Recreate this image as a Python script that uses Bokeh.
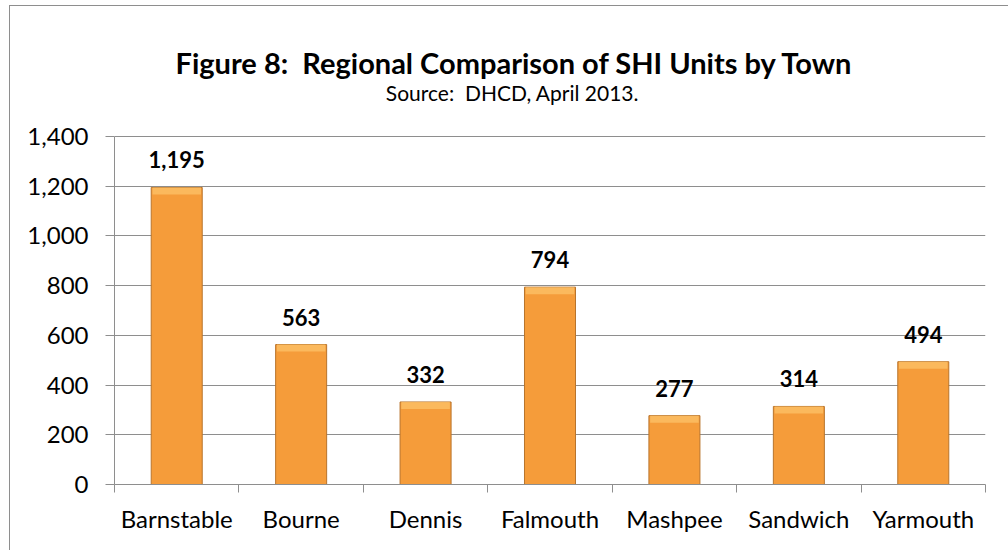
from bokeh.plotting import figure
from bokeh.models import (Range1d, FixedTicker, NumeralTickFormatter, Label,
                          LabelSet, ColumnDataSource)
from bokeh.core.properties import value
from bokeh.embed import file_html
from bokeh.resources import INLINE

towns = ["Barnstable", "Bourne", "Dennis", "Falmouth", "Mashpee", "Sandwich", "Yarmouth"]
units = [1195, 563, 332, 794, 277, 314, 494]
y_ticks = [0, 200, 400, 600, 800, 1000, 1200, 1400]
title_text = "Figure 8:\u00a0 Regional Comparison of SHI Units by Town"
subtitle_text = "Source:\u00a0 DHCD, April 2013."

FONT = "Lato"
GRID = "#8E8E8E"

W, H = 1008, 550
FRAME_TOP = 10          # frame extends up so title labels sit inside it
AXIS_TOP = 136          # pixel row of the top tick (1,400)
AXIS_BOTTOM = 484       # pixel row of 0
y_max = y_ticks[-1]
y_end = y_max * (AXIS_BOTTOM - FRAME_TOP) / (AXIS_BOTTOM - AXIS_TOP)
px_per_unit = (AXIS_BOTTOM - AXIS_TOP) / y_max
bevel = 7 / px_per_unit   # height of the light top bevel, in data units

xs = [i + 0.5 for i in range(len(towns))]
src = ColumnDataSource(dict(x=xs, top=units, town=towns,
                            bevel_bottom=[u - bevel for u in units],
                            label=[f"{v:,}" for v in units]))

p = figure(width=W, height=H, output_backend="svg", toolbar_location=None,
           title=None,
           x_range=Range1d(0, len(towns)), y_range=Range1d(y_ticks[0], y_end),
           min_border_left=114, min_border_right=23, min_border_top=FRAME_TOP,
           min_border_bottom=H - AXIS_BOTTOM)
p.outline_line_color = None
p.background_fill_color = "white"
p.border_fill_color = None
p.styles = {
    "background": ("linear-gradient(#8E8E8E, #8E8E8E) 9px 5px / 100% 1px no-repeat, "
                   "linear-gradient(#8E8E8E, #8E8E8E) 9px 5px / 1px 100% no-repeat, white"),
}

p.xgrid.visible = False
p.ygrid.grid_line_color = GRID
p.ygrid.grid_line_width = 1.2

# y axis
p.yaxis.ticker = FixedTicker(ticks=y_ticks)
p.yaxis.bounds = (y_ticks[0], y_max)
p.yaxis.formatter = NumeralTickFormatter(format="0,0")
p.yaxis.major_tick_out = 9
p.yaxis.major_tick_in = 0
p.yaxis.minor_tick_line_color = None
p.yaxis.axis_line_color = GRID
p.yaxis.major_tick_line_color = GRID
p.yaxis.major_label_text_font = FONT
p.yaxis.major_label_text_font_size = "24px"
p.yaxis.major_label_text_color = "black"
p.yaxis.major_label_standoff = 17

# x axis: labels at category centers, ticks at category boundaries
p.xaxis.ticker = FixedTicker(ticks=xs, minor_ticks=list(range(len(towns) + 1)))
p.xaxis.major_label_overrides = {x: t for x, t in zip(xs, towns)}
p.xaxis.major_tick_out = 0
p.xaxis.major_tick_in = 0
p.xaxis.minor_tick_out = 8
p.xaxis.minor_tick_in = 0
p.xaxis.minor_tick_line_color = GRID
p.xaxis.axis_line_color = GRID
p.xaxis.major_label_text_font = FONT
p.xaxis.major_label_text_font_size = "24px"
p.xaxis.major_label_text_color = "black"
p.xaxis.major_label_standoff = 11

p.vbar(x="x", top="top", bottom=0, width=0.41, source=src,
       fill_color="#F59C3A", line_color="#B8742C", line_width=1)
p.vbar(x="x", top="top", bottom="bevel_bottom", width=0.39, source=src,
       fill_color="#FDC066", fill_alpha=0.8, line_color=None)

p.add_layout(LabelSet(x="x", y="top", text="label", source=src, y_offset=19,
                      text_align="center", text_baseline="alphabetic",
                      text_font=value(FONT), text_font_style="bold",
                      text_font_size=value("22px"), text_color="black"))

p.add_layout(Label(x=0, y=y_max, x_offset=400, y_offset=AXIS_TOP - 62,
                   text=title_text, text_align="center", text_baseline="alphabetic",
                   text_font=FONT, text_font_style="bold", text_font_size="29px",
                   text_color="black"))
p.add_layout(Label(x=0, y=y_max, x_offset=398, y_offset=AXIS_TOP - 92,
                   text=subtitle_text, text_align="center", text_baseline="alphabetic",
                   text_font=FONT, text_font_size="21px", text_color="black"))

open("out.html", "w").write(file_html(p, INLINE))
